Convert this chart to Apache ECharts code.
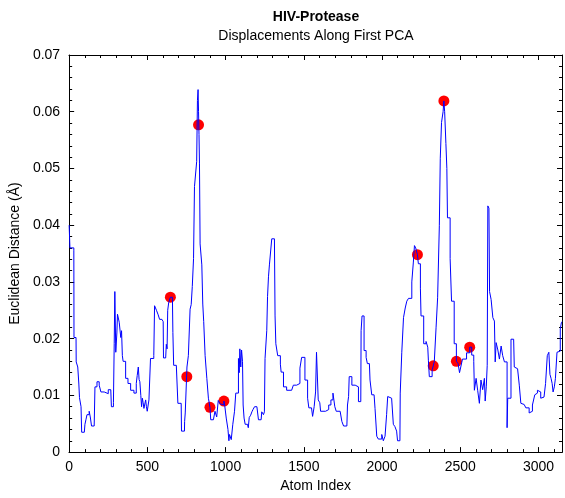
<!DOCTYPE html>
<html>
<head>
<meta charset="utf-8">
<script src="https://cdn.jsdelivr.net/npm/echarts@6/dist/echarts.min.js"></script>
<style>
  html, body { margin: 0; padding: 0; background: #fff; }
  #chart { width: 565px; height: 498px; }
</style>
</head>
<body>
<div id="chart"></div>
<script>
// displacement trace (atom index, distance in A)
var atomIndex = [
  0, 5, 30, 31, 44, 45, 55, 62, 66, 76, 80, 97, 101, 108, 114, 128, 135, 139, 143, 160,
  165, 178, 192, 203, 224, 235, 250, 266, 270, 283, 288, 292, 295, 298, 305, 309, 315, 320, 330, 335,
  340, 345, 361, 376, 393, 414, 429, 435, 442, 447, 452, 458, 463, 468, 473, 478, 489, 494, 499, 503,
  510, 520, 531, 541, 546, 558, 569, 578, 593, 601, 603, 617, 621, 626, 630, 636, 647, 660, 663, 668,
  685, 691, 695, 716, 718, 737, 738, 742, 752, 753, 762, 773, 780, 787, 795, 801, 812, 815, 820, 824,
  827, 830, 833, 837, 848, 854, 860, 869, 880, 890, 900, 905, 922, 932, 943, 953, 965, 975, 989, 994,
  1004, 1015, 1021, 1025, 1036, 1046, 1057, 1065, 1075, 1082, 1087, 1091, 1097, 1102, 1108, 1112, 1118, 1125, 1140, 1145,
  1151, 1160, 1168, 1175, 1185, 1200, 1210, 1227, 1231, 1242, 1248, 1252, 1263, 1268, 1274, 1280, 1291, 1295, 1312, 1316,
  1321, 1333, 1342, 1350, 1355, 1370, 1380, 1390, 1422, 1433, 1454, 1460, 1475, 1486, 1497, 1507, 1524, 1532, 1549, 1556,
  1566, 1575, 1581, 1587, 1592, 1602, 1607, 1639, 1645, 1659, 1673, 1686, 1694, 1698, 1707, 1732, 1743, 1754, 1775, 1779,
  1786, 1790, 1800, 1807, 1828, 1839, 1849, 1864, 1866, 1872, 1876, 1885, 1898, 1906, 1919, 1923, 1934, 1949, 1955, 1966,
  1976, 1987, 1998, 2008, 2019, 2029, 2036, 2046, 2061, 2072, 2082, 2093, 2099, 2114, 2116, 2126, 2137, 2148, 2158, 2169,
  2179, 2190, 2200, 2207, 2215, 2226, 2232, 2238, 2245, 2249, 2260, 2266, 2281, 2292, 2296, 2302, 2313, 2320, 2327, 2334,
  2345, 2355, 2366, 2372, 2380, 2390, 2395, 2400, 2408, 2414, 2418, 2429, 2435, 2444, 2461, 2475, 2486, 2495, 2503, 2514,
  2524, 2540, 2560, 2573, 2586, 2590, 2601, 2611, 2622, 2632, 2637, 2643, 2654, 2659, 2666, 2672, 2676, 2683, 2687, 2697,
  2708, 2718, 2723, 2729, 2740, 2750, 2761, 2771, 2782, 2792, 2799, 2803, 2813, 2824, 2841, 2845, 2855, 2866, 2877, 2887,
  2898, 2908, 2919, 2929, 2940, 2950, 2961, 2972, 2976, 2982, 2993, 3003, 3014, 3024, 3035, 3045, 3056, 3062, 3066, 3073,
  3080, 3087, 3093, 3101, 3108, 3118, 3129, 3139, 3146, 3150
];
var distance = [
  0.0400, 0.0360, 0.0356, 0.0202, 0.0200, 0.0159, 0.0150, 0.0120, 0.0096, 0.0080, 0.0035, 0.0035, 0.0049, 0.0058, 0.0066, 0.0072, 0.0062, 0.0060, 0.0046, 0.0046,
  0.0115, 0.0124, 0.0118, 0.0106, 0.0106, 0.0103, 0.0110, 0.0112, 0.0080, 0.0087, 0.0191, 0.0283, 0.0285, 0.0176, 0.0210, 0.0243, 0.0240, 0.0229, 0.0202, 0.0214,
  0.0170, 0.0160, 0.0130, 0.0121, 0.0109, 0.0104, 0.0121, 0.0135, 0.0150, 0.0128, 0.0124, 0.0100, 0.0080, 0.0095, 0.0087, 0.0077, 0.0092, 0.0080, 0.0072, 0.0072,
  0.0092, 0.0165, 0.0165, 0.0170, 0.0258, 0.0250, 0.0242, 0.0234, 0.0232, 0.0230, 0.0166, 0.0166, 0.0190, 0.0182, 0.0250, 0.0263, 0.0273, 0.0273, 0.0211, 0.0153,
  0.0150, 0.0150, 0.0086, 0.0086, 0.0037, 0.0037, 0.0054, 0.0069, 0.0069, 0.0150, 0.0170, 0.0252, 0.0260, 0.0292, 0.0341, 0.0468, 0.0468, 0.0512, 0.0620, 0.0639,
  0.0600, 0.0560, 0.0508, 0.0367, 0.0330, 0.0261, 0.0230, 0.0170, 0.0130, 0.0095, 0.0079, 0.0057, 0.0057, 0.0072, 0.0062, 0.0091, 0.0085, 0.0083, 0.0090, 0.0083,
  0.0060, 0.0040, 0.0020, 0.0031, 0.0022, 0.0049, 0.0072, 0.0104, 0.0104, 0.0165, 0.0140, 0.0182, 0.0150, 0.0180, 0.0160, 0.0083, 0.0060, 0.0049, 0.0049, 0.0043,
  0.0061, 0.0065, 0.0071, 0.0075, 0.0080, 0.0077, 0.0057, 0.0057, 0.0071, 0.0066, 0.0071, 0.0165, 0.0214, 0.0274, 0.0309, 0.0330, 0.0330, 0.0376, 0.0376, 0.0240,
  0.0191, 0.0170, 0.0170, 0.0155, 0.0141, 0.0115, 0.0115, 0.0109, 0.0109, 0.0118, 0.0118, 0.0121, 0.0148, 0.0167, 0.0167, 0.0127, 0.0095, 0.0078, 0.0078, 0.0063,
  0.0080, 0.0106, 0.0176, 0.0179, 0.0092, 0.0087, 0.0072, 0.0072, 0.0075, 0.0083, 0.0092, 0.0104, 0.0104, 0.0080, 0.0072, 0.0072, 0.0054, 0.0046, 0.0046, 0.0083,
  0.0098, 0.0133, 0.0133, 0.0118, 0.0118, 0.0115, 0.0089, 0.0089, 0.0214, 0.0240, 0.0240, 0.0179, 0.0167, 0.0156, 0.0156, 0.0127, 0.0101, 0.0101, 0.0077, 0.0028,
  0.0023, 0.0023, 0.0031, 0.0020, 0.0028, 0.0066, 0.0098, 0.0095, 0.0095, 0.0049, 0.0045, 0.0037, 0.0020, 0.0020, 0.0104, 0.0176, 0.0237, 0.0254, 0.0266, 0.0271,
  0.0271, 0.0300, 0.0335, 0.0364, 0.0360, 0.0348, 0.0332, 0.0332, 0.0289, 0.0240, 0.0240, 0.0191, 0.0195, 0.0185, 0.0162, 0.0133, 0.0133, 0.0145, 0.0152, 0.0160,
  0.0219, 0.0272, 0.0399, 0.0518, 0.0581, 0.0600, 0.0619, 0.0600, 0.0544, 0.0500, 0.0413, 0.0413, 0.0341, 0.0266, 0.0191, 0.0160, 0.0156, 0.0140, 0.0150, 0.0164,
  0.0164, 0.0175, 0.0185, 0.0171, 0.0160, 0.0109, 0.0130, 0.0109, 0.0086, 0.0127, 0.0130, 0.0110, 0.0130, 0.0090, 0.0115, 0.0153, 0.0434, 0.0430, 0.0283, 0.0269,
  0.0237, 0.0231, 0.0159, 0.0193, 0.0180, 0.0164, 0.0187, 0.0170, 0.0159, 0.0159, 0.0043, 0.0095, 0.0095, 0.0199, 0.0199, 0.0150, 0.0147, 0.0147, 0.0118, 0.0086,
  0.0084, 0.0082, 0.0078, 0.0078, 0.0069, 0.0072, 0.0083, 0.0083, 0.0101, 0.0104, 0.0109, 0.0106, 0.0095, 0.0097, 0.0095, 0.0121, 0.0170, 0.0170, 0.0176, 0.0137,
  0.0130, 0.0121, 0.0106, 0.0115, 0.0130, 0.0176, 0.0178, 0.0217, 0.0228, 0.0230
];

// marked atoms (red dots)
var peakIndex = [647, 752, 827, 900, 989, 2226, 2327, 2395, 2475, 2560];
var peakDistance = [0.0273, 0.0133, 0.0577, 0.0079, 0.0090, 0.0348, 0.0152, 0.0619, 0.0160, 0.0185];

var xMax = 3150;
var yMax = 0.07;

var chart = echarts.init(document.getElementById('chart'));

var font = 'Arial, "Liberation Sans", sans-serif';

function xAxisDef(pos, interval, tickLen, labels) {
  return {
    type: 'value', position: pos, min: 0, max: xMax, interval: interval,
    axisLine: {show: true, onZero: false, lineStyle: {color: '#000', width: 1}},
    axisTick: {show: true, inside: true, length: tickLen, lineStyle: {color: '#000'}},
    axisLabel: {
      show: labels, margin: 8, color: '#000', fontSize: 14, fontFamily: font,
      formatter: function(v) { return v % 500 === 0 ? String(v) : ''; }
    },
    splitLine: {show: false}
  };
}

function yAxisDef(pos, labels) {
  return {
    type: 'value', position: pos, min: 0, max: yMax, interval: 0.01,
    axisLine: {show: true, onZero: false, lineStyle: {color: '#000', width: 1}},
    axisTick: {show: true, inside: true, length: 5, lineStyle: {color: '#000'}},
    minorTick: {show: true, splitNumber: 5, length: 3, lineStyle: {color: '#000'}},
    axisLabel: {
      show: labels, margin: 9, color: '#000', fontSize: 14, fontFamily: font,
      formatter: function(v) { return v === 0 ? '0' : v.toFixed(2); }
    },
    splitLine: {show: false}
  };
}

var xAxes = [
  xAxisDef('bottom', 500, 5, true),
  xAxisDef('bottom', 100, 3, false),
  xAxisDef('top', 500, 5, false),
  xAxisDef('top', 100, 3, false)
];
xAxes[0].name = 'Atom Index';
xAxes[0].nameLocation = 'middle';
xAxes[0].nameGap = 26;
xAxes[0].nameTextStyle = {color: '#000', fontSize: 14, fontFamily: font};

var yAxes = [yAxisDef('left', true), yAxisDef('right', false)];
yAxes[0].name = 'Euclidean Distance (\u00C5)';
yAxes[0].nameLocation = 'middle';
yAxes[0].nameGap = 40;
yAxes[0].nameTextStyle = {color: '#000', fontSize: 14, fontFamily: font};

var lineData = atomIndex.map(function(x, i) { return [x, distance[i]]; });
var peakData = peakIndex.map(function(x, i) { return [x, peakDistance[i]]; });

chart.setOption({
  animation: false,
  backgroundColor: '#fff',
  title: {
    text: 'HIV-Protease',
    subtext: 'Displacements Along First PCA',
    left: 316, top: 10, padding: 0, itemGap: 5, textAlign: 'center',
    textStyle: {color: '#000', fontSize: 14, fontWeight: 'bold', fontFamily: font},
    subtextStyle: {color: '#000', fontSize: 14, fontFamily: font}
  },
  grid: {left: 68, right: 1, top: 55, bottom: 40, containLabel: false},
  xAxis: xAxes,
  yAxis: yAxes,
  series: [
    {
      type: 'line', data: lineData, xAxisIndex: 0, yAxisIndex: 0,
      step: 'end', showSymbol: false, symbol: 'none',
      lineStyle: {color: '#0000ff', width: 1}
    },
    {
      type: 'scatter', data: peakData, xAxisIndex: 0, yAxisIndex: 0,
      symbol: 'circle', symbolSize: 11,
      itemStyle: {color: '#ff0000', opacity: 1}
    }
  ]
});
</script>
</body>
</html>
